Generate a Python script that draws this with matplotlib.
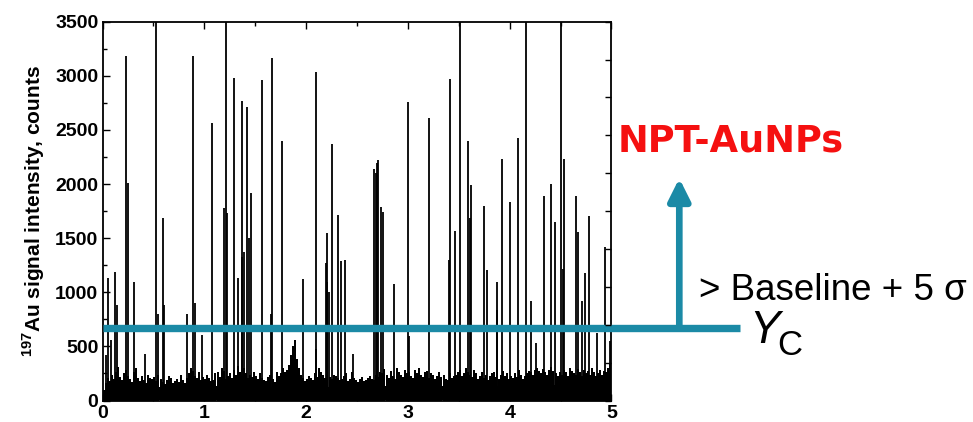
import numpy as np
import matplotlib
matplotlib.use("Agg")
import matplotlib.pyplot as plt
from matplotlib.ticker import MultipleLocator

plt.rcParams['font.family'] = ['Liberation Sans', 'DejaVu Sans']
plt.rcParams['mathtext.fontset'] = 'custom'
plt.rcParams['mathtext.bf'] = 'Liberation Sans:bold'
plt.rcParams['mathtext.rm'] = 'Liberation Sans'

# ---- data -------------------------------------------------------------
# particle events: time (s) and 197Au intensity (counts); 3600 = off scale
spike_time = [0.03, 0.051, 0.08, 0.12, 0.145, 0.231, 0.247, 0.306, 0.42,
              0.525, 0.542, 0.591, 0.607, 0.827, 0.892, 0.909, 0.974,
              1.079, 1.197, 1.21, 1.22, 1.289, 1.328, 1.367, 1.373, 1.387,
              1.42, 1.437, 1.455, 1.57, 1.654, 1.662, 1.766, 1.966, 2.094,
              2.10, 2.192, 2.202, 2.21, 2.225, 2.254, 2.313, 2.346, 2.382,
              2.458, 2.67, 2.685, 2.70, 2.71, 2.733, 2.759, 2.86, 3.004,
              3.015, 3.21, 3.405, 3.41, 3.463, 3.512, 3.587, 3.606, 3.623,
              3.747, 3.774, 3.872, 3.878, 3.927, 4.003, 4.085, 4.157, 4.212,
              4.258, 4.334, 4.406, 4.445, 4.50, 4.525, 4.53, 4.648, 4.671,
              4.71, 4.743, 4.779, 4.857, 4.936, 4.985]
spike_counts = [420, 1129, 560, 1190, 882, 3186, 2007, 1098, 430,
                3600, 799, 1683, 882, 799, 3186, 898, 605,
                2561, 1776, 3600, 1730, 2977, 1129, 2770, 1330, 1370,
                2715, 1500, 1920, 2961, 799, 3162, 2398, 1123, 3038,
                473, 1268, 1545, 1098, 1006, 2367, 1714, 1289, 1301,
                430, 2136, 2100, 2191, 2222, 1791, 1745, 1073, 2761,
                600, 2613, 1298, 2970, 1569, 3600, 2398, 1683, 1991,
                1800, 1206, 1092, 840, 2228, 1837, 2428, 3600, 922,
                530, 1889, 1997, 1649, 3600, 1215, 2231, 1889, 1560,
                922, 1175, 1708, 620, 1415, 550]

# background noise tops, one value per 0.02 s
noise_step = 0.02
noise_counts = [
    95, 160, 210, 180, 240, 200, 260, 310, 220, 190, 250, 280, 230, 200, 170, 260, 300, 210, 180, 230, 190, 160, 240, 210, 200,
    220, 180, 240, 200, 170, 150, 190, 230, 210, 160, 180, 200, 170, 240, 190, 160, 210, 250, 300, 270, 230, 210, 260, 190, 220,
    200, 240, 210, 180, 190, 250, 260, 220, 300, 270, 200, 230, 250, 210, 280, 240, 320, 260, 230, 300, 250, 210, 240, 220, 260,
    230, 200, 250, 210, 190, 180, 220, 240, 200, 170, 260, 230, 250, 300, 260, 280, 330, 420, 500, 560, 380, 300, 240, 210, 180,
    200, 230, 210, 190, 250, 220, 300, 260, 240, 210, 270, 220, 200, 240, 230, 210, 190, 200, 230, 250, 180, 200, 260, 210, 190,
    170, 200, 220, 180, 190, 210, 230, 200, 190, 240, 220, 260, 250, 290, 240, 210, 270, 230, 200, 300, 260, 240, 220, 280, 250,
    260, 230, 210, 280, 250, 300, 240, 220, 260, 270, 210, 250, 240, 200, 230, 260, 220, 240, 200, 190, 250, 210, 230, 240, 260,
    280, 230, 250, 300, 260, 240, 220, 280, 250, 200, 230, 260, 210, 240, 190, 230, 250, 260, 220, 200, 240, 270, 230, 250, 200,
    230, 210, 250, 220, 280, 240, 200, 230, 250, 270, 260, 240, 280, 300, 270, 250, 290, 260, 240, 280, 310, 270, 250, 230, 260,
    240, 280, 260, 230, 300, 270, 250, 240, 290, 260, 230, 280, 250, 270, 240, 300, 260, 230, 250, 280, 240, 270, 260, 300, 350,
]

# solid baseline level, one value per 0.1 s
floor_step = 0.1
floor_counts = [95, 125, 130, 135, 130, 128, 132, 125, 130, 135,
                138, 132, 135, 140, 138, 130, 128, 132, 135, 140,
                135, 130, 128, 132, 125, 122, 128, 130, 135, 138,
                140, 135, 132, 138, 135, 140, 138, 132, 135, 130,
                135, 140, 138, 142, 140, 138, 135, 140, 138, 145]

threshold = 667          # Yc = baseline + 5 sigma
arrow_top = 2053

x_ticks = [0, 1, 2, 3, 4, 5]
y_ticks = [0, 500, 1000, 1500, 2000, 2500, 3000, 3500]

blue = '#1b8aa6'
red = '#f51010'

# ---- figure -----------------------------------------------------------
W, H = 973, 422
fig = plt.figure(figsize=(W / 100, H / 100), dpi=100)
ax = fig.add_axes([102.5 / W, 1 - 400.5 / H, 509 / W, 378.8 / H])

noise_t = np.arange(len(noise_counts)) * noise_step + noise_step / 2
floor_t = np.arange(len(floor_counts)) * floor_step + floor_step / 2

ax.fill_between(floor_t, 0, floor_counts, step='mid', color='black', lw=0)
ax.bar([0.0, 5.0], [floor_counts[0], floor_counts[-1]], width=0.1, color='black', lw=0)
ax.vlines(noise_t, 0, noise_counts, color='black', lw=1.1, antialiased=False)
ax.vlines(spike_time, 0, spike_counts, color='black', lw=1.3)

ax.set_xlim(0, 5)
ax.set_ylim(0, 3500)
ax.set_xticks(x_ticks)
ax.set_yticks(y_ticks)
ax.xaxis.set_minor_locator(MultipleLocator(0.5))
ax.yaxis.set_minor_locator(MultipleLocator(250))
ax.tick_params(which='both', direction='in', top=True, right=False, width=1.0)
ax.tick_params(which='major', length=5, labelsize=14, pad=3)
ax.tick_params(which='minor', length=3)
for lab in ax.get_xticklabels() + ax.get_yticklabels():
    lab.set_fontweight('bold')
for s in ax.spines.values():
    s.set_linewidth(1.3)

ax2 = ax.twinx()
ax2.set_ylim(0, 3500)
ax2.set_yticks(np.arange(0, 3501, 350))
ax2.tick_params(direction='in', length=4, labelright=False, width=1.0)
for s in ax2.spines.values():
    s.set_visible(False)

ax.set_ylabel(r"$^{\mathbf{197}}$Au signal intensity, counts",
              fontsize=15, fontweight='bold', labelpad=6)

# threshold line and arrow (extend past the axes)
x_end = (740 - 102.5) / 101.8
x_arrow = (679.3 - 102.5) / 101.8
ax.plot([0, x_end], [threshold, threshold], color=blue, lw=5.3,
        solid_capstyle='butt', clip_on=False, zorder=5)
ax.annotate('', xy=(x_arrow, arrow_top), xytext=(x_arrow, threshold),
            xycoords='data', annotation_clip=False,
            arrowprops=dict(arrowstyle='-|>,head_length=1.3,head_width=0.65',
                            color=blue, lw=4.8, shrinkA=0, shrinkB=0))

fig.text(618 / W, 1 - 151 / H, 'NPT-AuNPs', color=red, fontsize=26.5,
         fontweight='bold', family=['DejaVu Sans'], va='baseline')
fig.text(699 / W, 1 - 300 / H, '> Baseline + 5 σ', color='black',
         fontsize=26.5, va='baseline')
fig.text(749 / W, 1 - 343 / H, 'Y', color='black', fontsize=33,
         style='italic', va='baseline')
fig.text(777 / W, 1 - 355 / H, 'C', color='black', fontsize=25, va='baseline')

fig.savefig('out.png', dpi=100)
